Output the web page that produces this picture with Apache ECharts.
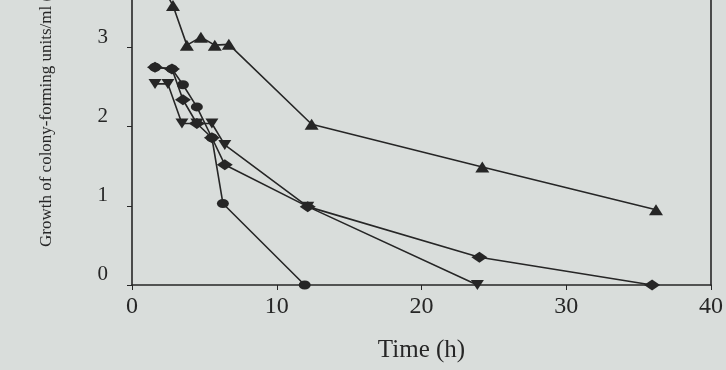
<!DOCTYPE html>
<html>
<head>
<meta charset="utf-8">
<script src="https://cdn.jsdelivr.net/npm/echarts@6/dist/echarts.min.js"></script>
<style>
  html, body { margin: 0; padding: 0; background: #d9dddb; }
  #chart { width: 726px; height: 370px; }
</style>
</head>
<body>
<div id="chart"></div>
<script>
// values: [time (h), growth]
const upTriangle = [[1.86, 3.85], [2.83, 3.53], [3.79, 3.03], [4.76, 3.13], [5.72, 3.03], [6.69, 3.04], [12.41, 2.03], [24.2, 1.49], [36.2, 0.95]];
const fastKill = [[1.59, 2.75], [2.76, 2.73], [3.52, 2.53], [4.48, 2.25], [5.52, 1.86], [6.28, 1.03], [11.93, 0]];
const diamondSeries = [[1.59, 2.75], [2.76, 2.73], [3.52, 2.34], [4.48, 2.04], [5.52, 1.86], [6.41, 1.52], [12.14, 0.99], [24.0, 0.35], [35.93, 0]];
const downTriangle = [[1.59, 2.54], [2.48, 2.54], [3.45, 2.04], [4.48, 2.04], [5.52, 2.04], [6.41, 1.77], [12.14, 0.99], [23.86, 0]];

const xTicks = [0, 10, 20, 30, 40];
const yTicks = [0, 1, 2, 3];

const INK = '#262626';
const SERIF = '"Liberation Serif", "DejaVu Serif", serif';

const chart = echarts.init(document.getElementById('chart'));

function line(name, data, symbol, size) {
  return {
    name: name,
    type: 'line',
    data: data,
    symbol: symbol,
    symbolSize: size,
    lineStyle: { color: INK, width: 1.6 },
    itemStyle: { color: INK },
    z: 3,
  };
}

chart.setOption({
  backgroundColor: '#d9dddb',
  animation: false,
  grid: { left: 132, right: 14, top: 0, bottom: 85 },
  xAxis: {
    type: 'value',
    min: xTicks[0],
    max: xTicks[xTicks.length - 1],
    interval: 10,
    name: 'Time (h)',
    nameLocation: 'middle',
    nameGap: 53,
    nameTextStyle: { color: INK, fontFamily: SERIF, fontSize: 25 },
    axisLine: { lineStyle: { color: INK, width: 1.6 } },
    axisTick: { length: 5, lineStyle: { color: INK } },
    axisLabel: { color: INK, fontFamily: SERIF, fontSize: 24, margin: 10 },
    splitLine: { show: false },
  },
  yAxis: [
    {
      type: 'value',
      min: yTicks[0],
      max: 3.6,
      interval: 1,
      axisLine: { show: true, lineStyle: { color: INK, width: 1.6 } },
      axisTick: { show: true, length: 5, lineStyle: { color: INK } },
      axisLabel: {
        color: INK, fontFamily: SERIF, fontSize: 21, margin: 24,
        verticalAlign: 'bottom',
        showMaxLabel: false,
        formatter: (v) => (yTicks.includes(v) ? String(v) : ''),
      },
      splitLine: { show: false },
    },
    {
      type: 'value',
      position: 'right',
      min: 0,
      max: 3.6,
      axisLine: { show: true, lineStyle: { color: INK, width: 1.6 } },
      axisTick: { show: false },
      axisLabel: { show: false },
      splitLine: { show: false },
    },
  ],
  graphic: [{
    type: 'text',
    x: 47,
    y: 247,
    rotation: Math.PI / 2,
    style: {
      text: 'Growth of colony-forming units/ml (',
      fill: INK,
      font: '17px "Liberation Serif", serif',
      textAlign: 'left',
      textVerticalAlign: 'middle',
    },
  }],
  series: [
    line('up', upTriangle, 'triangle', [14, 11]),
    line('fast', fastKill, 'circle', [12, 9]),
    line('diamond', diamondSeries, 'diamond', [16, 11]),
    line('down', downTriangle, 'path://M0,0 L10,0 L5,9 Z', [13, 10]),
  ],
});
</script>
</body>
</html>
